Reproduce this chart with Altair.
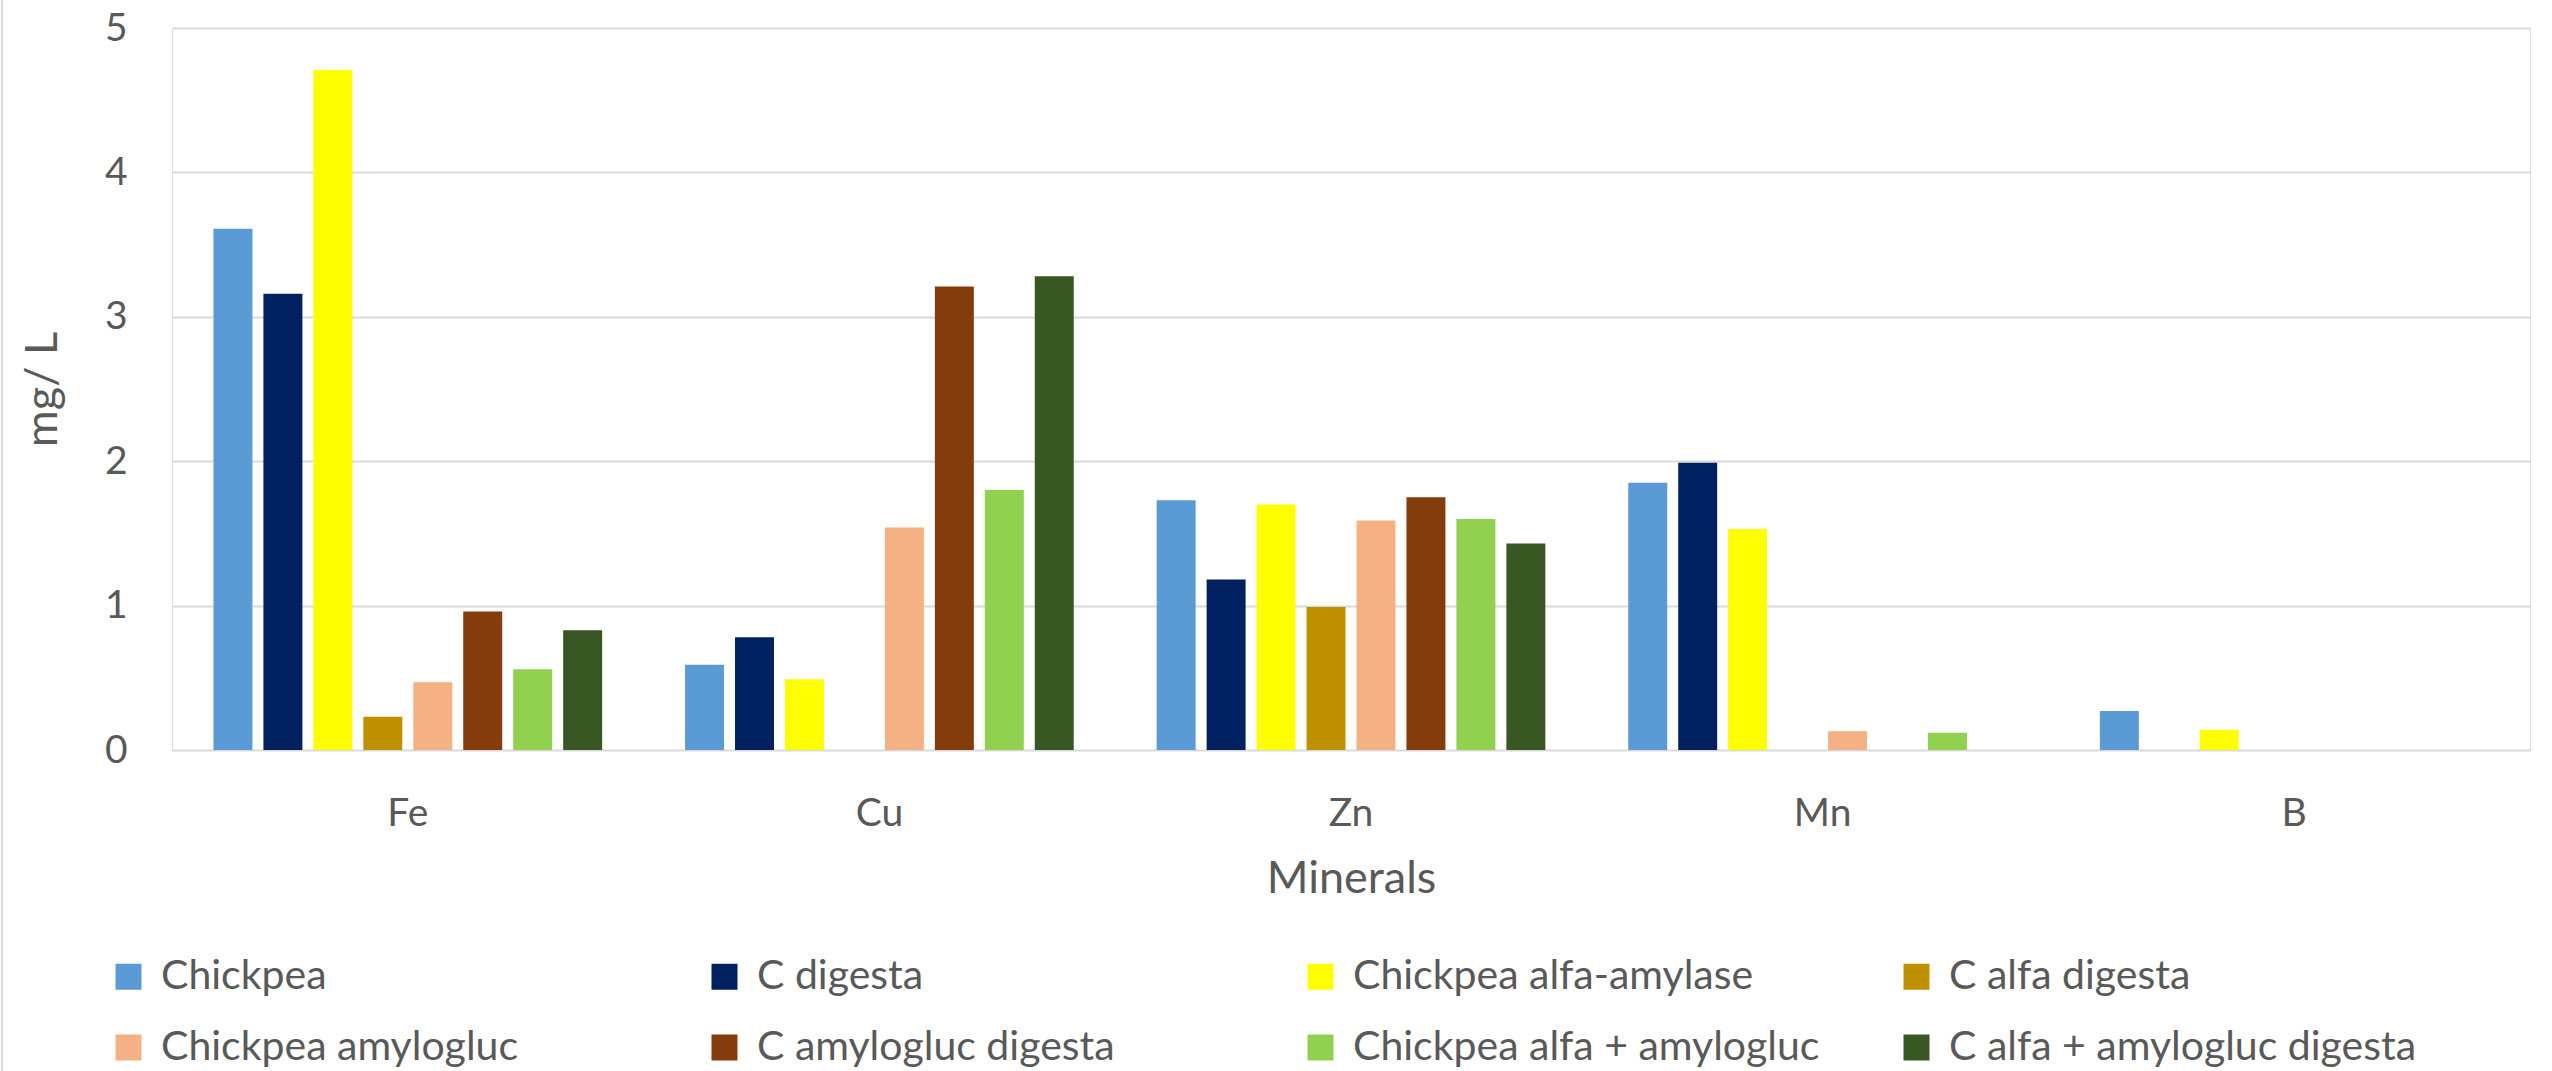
import altair as alt
import pandas as pd

# Mineral content (mg/L) per sample
minerals = ["Fe", "Cu", "Zn", "Mn", "B"]
samples = [
    "Chickpea",
    "C digesta",
    "Chickpea alfa-amylase",
    "C alfa digesta",
    "Chickpea amylogluc",
    "C amylogluc digesta",
    "Chickpea alfa + amylogluc",
    "C alfa + amylogluc digesta",
]
colors = ["#5B9BD5", "#002060", "#FFFF00", "#BF9000",
          "#F4B183", "#843C0C", "#92D050", "#385723"]

chickpea = [3.61, 0.59, 1.73, 1.85, 0.27]
c_digesta = [3.16, 0.78, 1.18, 1.99, 0.0]
chickpea_alfa = [4.71, 0.49, 1.70, 1.53, 0.14]
c_alfa_digesta = [0.23, 0.0, 0.99, 0.0, 0.0]
chickpea_amylogluc = [0.47, 1.54, 1.59, 0.13, 0.0]
c_amylogluc_digesta = [0.96, 3.21, 1.75, 0.0, 0.0]
chickpea_alfa_amylogluc = [0.56, 1.80, 1.60, 0.12, 0.0]
c_alfa_amylogluc_digesta = [0.83, 3.28, 1.43, 0.0, 0.0]

series = [chickpea, c_digesta, chickpea_alfa, c_alfa_digesta,
          chickpea_amylogluc, c_amylogluc_digesta,
          chickpea_alfa_amylogluc, c_alfa_amylogluc_digesta]

rows = []
for name, vals in zip(samples, series):
    for m, v in zip(minerals, vals):
        rows.append({"Mineral": m, "Sample": name, "Value": v})
df = pd.DataFrame(rows)

TEXT = "#595959"
FONT = "Lato"

bars = (
    alt.Chart(df)
    .mark_bar()
    .encode(
        x=alt.X(
            "Mineral:N",
            sort=minerals,
            scale=alt.Scale(paddingInner=0, paddingOuter=0),
            axis=alt.Axis(
                title="Minerals",
                labelAngle=0,
                labelFontSize=39,
                labelColor=TEXT,
                labelFont=FONT,
                labelPadding=44,
                ticks=False,
                tickSize=0,
                domain=False,
                titleFontSize=45,
                titleFontWeight="normal",
                titleColor=TEXT,
                titleFont=FONT,
                titleBaseline="middle",
                titleY=128,
            ),
        ),
        xOffset=alt.XOffset(
            "Sample:N",
            sort=samples,
            scale=alt.Scale(paddingInner=0.22, paddingOuter=0.83),
        ),
        y=alt.Y(
            "Value:Q",
            scale=alt.Scale(domain=[0, 5], nice=False),
            axis=alt.Axis(
                title="mg/ L",
                values=[0, 1, 2, 3, 4, 5],
                labelFontSize=39,
                labelColor=TEXT,
                labelFont=FONT,
                labelPadding=45,
                ticks=False,
                tickSize=0,
                domain=False,
                gridColor="#D9D9D9",
                gridWidth=2,
                titleFontSize=45,
                titleFontWeight="normal",
                titleColor=TEXT,
                titleFont=FONT,
                titleAngle=270,
                titleAlign="center",
                titleBaseline="middle",
                titleX=-130,
                titleY=361,
            ),
        ),
        color=alt.Color(
            "Sample:N",
            sort=samples,
            scale=alt.Scale(domain=samples, range=colors),
            legend=alt.Legend(
                title=None,
                orient="none",
                legendX=-64,
                legendY=928,
                direction="horizontal",
                columns=4,
                gridAlign="all",
                columnPadding=75,
                rowPadding=29,
                padding=0,
                symbolType="square",
                symbolSize=676,
                symbolStrokeWidth=0,
                labelFontSize=41,
                labelFont=FONT,
                labelColor=TEXT,
                labelOffset=12,
                labelLimit=0,
            ),
        ),
    )
)

# Thin frame line along the left edge of the chart area
frame = alt.Chart(df).mark_rule(color="#D9D9D9", strokeWidth=2).encode(
    x=alt.value(-170), y=alt.value(-28), y2=alt.value(1043)
)

chart = (
    alt.layer(bars, frame)
    .properties(
        width=2358,
        height=722,
        autosize=alt.AutoSizeParams(type="none"),
        padding={"left": 172, "top": 28, "right": 22, "bottom": 321},
    )
    .configure_view(stroke=None)
    .configure(background="white")
)

chart.save("out.html", embed_options={"renderer": "svg", "actions": False})
